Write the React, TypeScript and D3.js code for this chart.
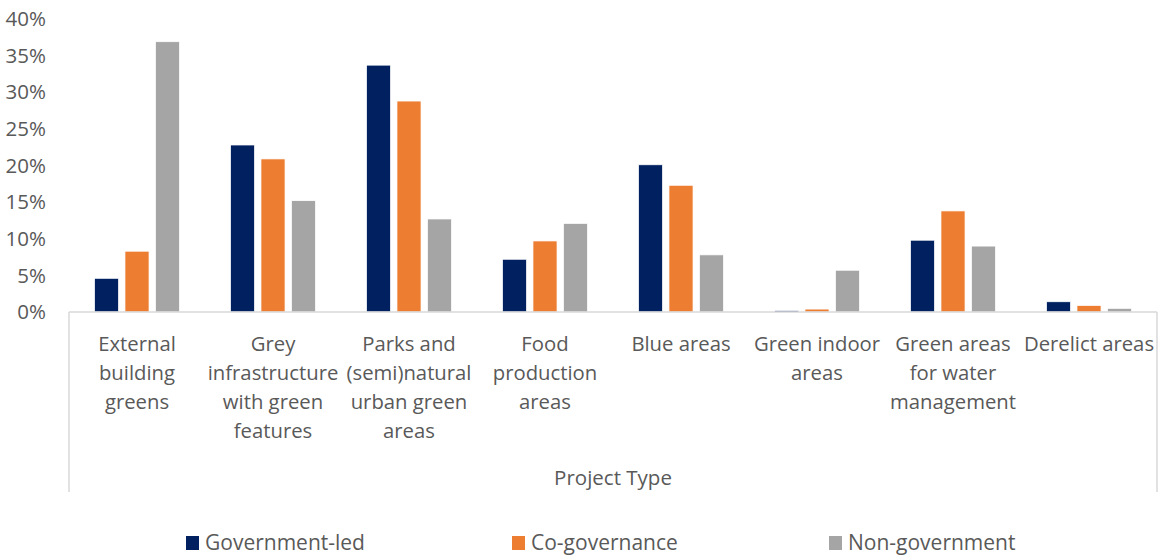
import React from "react";
import * as d3 from "d3";

const categories = [
  ["External", "building", "greens"],
  ["Grey", "infrastructure", "with green", "features"],
  ["Parks and", "(semi)natural", "urban green", "areas"],
  ["Food", "production", "areas"],
  ["Blue areas"],
  ["Green indoor", "areas"],
  ["Green areas", "for water", "management"],
  ["Derelict areas"],
];
const seriesNames = ["Government-led", "Co-governance", "Non-government"];
const governmentLed = [4.6, 22.8, 33.7, 7.2, 20.1, 0.2, 9.8, 1.4];
const coGovernance = [8.3, 20.9, 28.8, 9.7, 17.3, 0.4, 13.8, 0.9];
const nonGovernment = [36.9, 15.2, 12.7, 12.1, 7.8, 5.7, 9.0, 0.5];
const yTicks = [0, 5, 10, 15, 20, 25, 30, 35, 40];
const colors = ["#002060", "#ED7D31", "#A5A5A5"];
const axisTitle = "Project Type";

export default function App() {
  const series = [governmentLed, coGovernance, nonGovernment];
  const left = 69, right = 1157, top = 19, bottom = 312;
  const x = d3.scaleBand<number>().domain(d3.range(categories.length)).range([left, right]).padding(0);
  const inner = d3.scaleBand<number>().domain([0, 1, 2]).range([25.5, x.bandwidth() - 25.5]).paddingInner(0.21);
  const y = d3.scaleLinear().domain([0, 40]).range([bottom, top]);
  const font = "'Open Sans', sans-serif";
  const textColor = "#595959";
  const legendX = [186, 512, 829];

  return (
    <svg width={1162} height={556} style={{ position: "absolute", left: 0, top: 0, background: "#fff" }} fontFamily={font}>
      {yTicks.map((t) => (
        <text key={t} x={46} y={y(t)} dy="0.35em" textAnchor="end" fontSize={20.5} fill={textColor}>
          {t}%
        </text>
      ))}
      {series.map((vals, si) =>
        vals.map((v, ci) => (
          <rect
            key={`${si}-${ci}`}
            x={(x(ci) as number) + (inner(si) as number)}
            y={y(v)}
            width={inner.bandwidth()}
            height={bottom - y(v)}
            fill={colors[si]}
            stroke="#ffffff"
            strokeWidth={0.75}
          />
        ))
      )}
      <line x1={left} x2={right} y1={bottom} y2={bottom} stroke="#D9D9D9" strokeWidth={1.5} />
      <line x1={left} x2={left} y1={bottom} y2={492} stroke="#D9D9D9" strokeWidth={1.5} />
      <line x1={right} x2={right} y1={bottom} y2={492} stroke="#D9D9D9" strokeWidth={1.5} />
      {categories.map((lines, ci) => (
        <text key={ci} x={(x(ci) as number) + x.bandwidth() / 2} textAnchor="middle" fontSize={20.3} fill={textColor}>
          {lines.map((l, li) => (
            <tspan key={li} x={(x(ci) as number) + x.bandwidth() / 2} y={351 + li * 29}>
              {l}
            </tspan>
          ))}
        </text>
      ))}
      <text x={(left + right) / 2} y={485} textAnchor="middle" fontSize={20.5} fill={textColor}>
        {axisTitle}
      </text>
      {seriesNames.map((n, i) => (
        <g key={n}>
          <rect x={legendX[i]} y={536} width={13} height={14} fill={colors[i]} />
          <text x={legendX[i] + 19} y={550} fontSize={21} fill={textColor}>
            {n}
          </text>
        </g>
      ))}
    </svg>
  );
}
